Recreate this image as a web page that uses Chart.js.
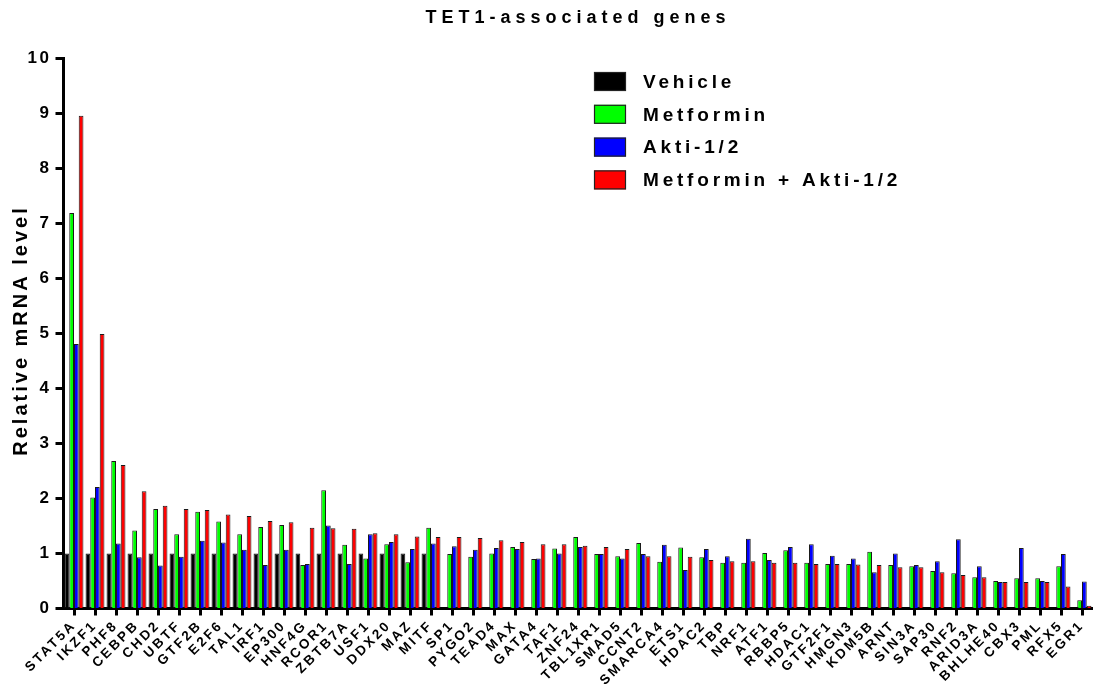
<!DOCTYPE html>
<html>
<head>
<meta charset="utf-8">
<script src="https://cdn.jsdelivr.net/npm/chart.js@4.4.1/dist/chart.umd.min.js"></script>
<style>
  html, body { margin: 0; padding: 0; background: #fff; }
  #wrap { width: 1096px; height: 692px; }
</style>
</head>
<body>
<div id="wrap"><canvas id="c" width="1096" height="692"></canvas></div>
<script>
// Gene panel (x categories)
const genes = ['STAT5A','IKZF1','PHF8','CEBPB','CHD2','UBTF','GTF2B','E2F6','TAL1','IRF1',
  'EP300','HNF4G','RCOR1','ZBTB7A','USF1','DDX20','MAZ','MITF','SP1','PYGO2',
  'TEAD4','MAX','GATA4','TAF1','ZNF24','TBL1XR1','SMAD5','CCNT2','SMARCA4','ETS1',
  'HDAC2','TBP','NRF1','ATF1','RBBP5','HDAC1','GTF2F1','HMGN3','KDM5B','ARNT',
  'SIN3A','SAP30','RNF2','ARID3A','BHLHE40','CBX3','PML','RFX5','EGR1'];

// Relative mRNA level per treatment
const vehicle = [1,1,1,1,1,1,1,1,1,1,1,1,1,1,1,1,1,1,
  null,null,null,null,null,null,null,null,null,null,null,null,null,null,null,null,null,
  null,null,null,null,null,null,null,null,null,null,null,null,null,null];
const metformin = [7.19,2.02,2.68,1.42,1.81,1.35,1.76,1.58,1.35,1.48,
  1.52,0.79,2.15,1.16,0.91,1.17,0.84,1.47,0.99,0.94,
  1.00,1.12,0.90,1.09,1.30,0.99,0.95,1.19,0.85,1.11,
  0.93,0.83,0.83,1.01,1.06,0.83,0.81,0.81,1.03,0.79,
  0.77,0.68,0.64,0.57,0.50,0.55,0.55,0.77,0.15];
const akti = [4.81,2.21,1.18,0.93,0.78,0.94,1.23,1.20,1.07,0.79,
  1.07,0.81,1.51,0.81,1.35,1.21,1.08,1.18,1.13,1.07,
  1.10,1.08,0.91,1.00,1.12,0.99,0.91,0.99,1.16,0.70,
  1.08,0.95,1.27,0.88,1.12,1.17,0.96,0.91,0.66,1.00,
  0.79,0.86,1.26,0.77,0.48,1.10,0.50,0.99,0.49];
const combo = [8.96,4.99,2.61,2.13,1.87,1.81,1.79,1.71,1.68,1.59,
  1.57,1.47,1.46,1.45,1.37,1.35,1.31,1.30,1.30,1.28,
  1.24,1.21,1.17,1.17,1.14,1.12,1.08,0.95,0.95,0.94,
  0.88,0.86,0.86,0.83,0.83,0.81,0.81,0.80,0.79,0.75,
  0.75,0.66,0.61,0.57,0.48,0.48,0.48,0.40,0.05];

const yTicks = [0,1,2,3,4,5,6,7,8,9,10];

const seriesNames = ['Vehicle','Metformin','Akti-1/2','Metformin + Akti-1/2'];
const seriesColors = ['#000000','#00ff00','#0000ff','#ff0000'];
const seriesData = [vehicle, metformin, akti, combo];

const chartTitle = 'TET1-associated genes';
const yAxisTitle = 'Relative mRNA level';

const FONT = '"Liberation Sans", Arial, sans-serif';

// Wide tracking for the axis tick labels
function setSpacing(chart) {
  chart.ctx.letterSpacing = '2.5px';
}
const spacingPlugin = {
  id: 'spacing',
  beforeUpdate: setSpacing,
  beforeLayout: setSpacing,
  beforeDraw: setSpacing
};

// Title, y-axis title and the boxed legend
const annotations = {
  id: 'annotations',
  afterDraw(chart) {
    const ctx = chart.ctx;
    const area = chart.chartArea;
    ctx.save();
    ctx.fillStyle = '#000';

    // chart title, centred over the plot area
    ctx.letterSpacing = '5px';
    ctx.font = 'bold 18px ' + FONT;
    ctx.textAlign = 'center';
    ctx.textBaseline = 'middle';
    ctx.fillText(chartTitle, (area.left + area.right) / 2, 18);

    // rotated y-axis title
    ctx.save();
    ctx.letterSpacing = '3px';
    ctx.font = 'bold 20px ' + FONT;
    ctx.translate(21, (area.top + area.bottom) / 2 - 3);
    ctx.rotate(-Math.PI / 2);
    ctx.fillText(yAxisTitle, 0, 0);
    ctx.restore();

    // legend inside the plot, top right
    ctx.letterSpacing = '3.8px';
    ctx.font = 'bold 19px ' + FONT;
    ctx.textAlign = 'left';
    ctx.textBaseline = 'middle';
    chart.data.datasets.forEach((ds, i) => {
      const y = 72 + i * 32.8;
      ctx.fillStyle = ds.backgroundColor;
      ctx.fillRect(594, y, 32, 19);
      ctx.strokeStyle = '#222';
      ctx.lineWidth = 1.2;
      ctx.strokeRect(594.5, y + 0.5, 31, 18);
      ctx.fillStyle = '#000';
      ctx.fillText(ds.label, 643, y + 10.5);
    });
    ctx.restore();
  }
};

new Chart(document.getElementById('c'), {
  type: 'bar',
  data: {
    labels: genes,
    datasets: seriesData.map((d, i) => ({
      label: seriesNames[i],
      data: d,
      backgroundColor: seriesColors[i],
      borderColor: '#1a1a1a',
      borderWidth: 1,
      barPercentage: 1.0,
      categoryPercentage: 0.9
    }))
  },
  options: {
    responsive: false,
    animation: false,
    devicePixelRatio: 1,
    layout: { padding: { top: 58.5, right: 3.5, bottom: 0, left: 0 } },
    plugins: {
      legend: { display: false },
      tooltip: { enabled: false },
      title: { display: false }
    },
    scales: {
      x: {
        offset: true,
        grid: { display: true, drawOnChartArea: false, drawTicks: true, offset: false,
                tickLength: 7, tickWidth: 3, tickColor: '#000' },
        border: { display: true, width: 3, color: '#000' },
        ticks: {
          autoSkip: false, maxRotation: 45, minRotation: 45, padding: 2,
          color: '#000', font: { family: FONT, size: 13.5, weight: 'bold' }
        },
        afterFit(scale) { scale.height = 83.5; }
      },
      y: {
        min: 0, max: 10,
        afterBuildTicks(scale) { scale.ticks = yTicks.map(v => ({ value: v })); },
        grid: { display: true, drawOnChartArea: false, drawTicks: true,
                tickLength: 8, tickWidth: 3, tickColor: '#000' },
        border: { display: true, width: 3, color: '#000' },
        ticks: {
          padding: 4, color: '#000',
          font: { family: FONT, size: 17, weight: 'bold' }
        },
        afterFit(scale) { scale.width = 63.5; }
      }
    }
  },
  plugins: [spacingPlugin, annotations]
});
</script>
</body>
</html>
